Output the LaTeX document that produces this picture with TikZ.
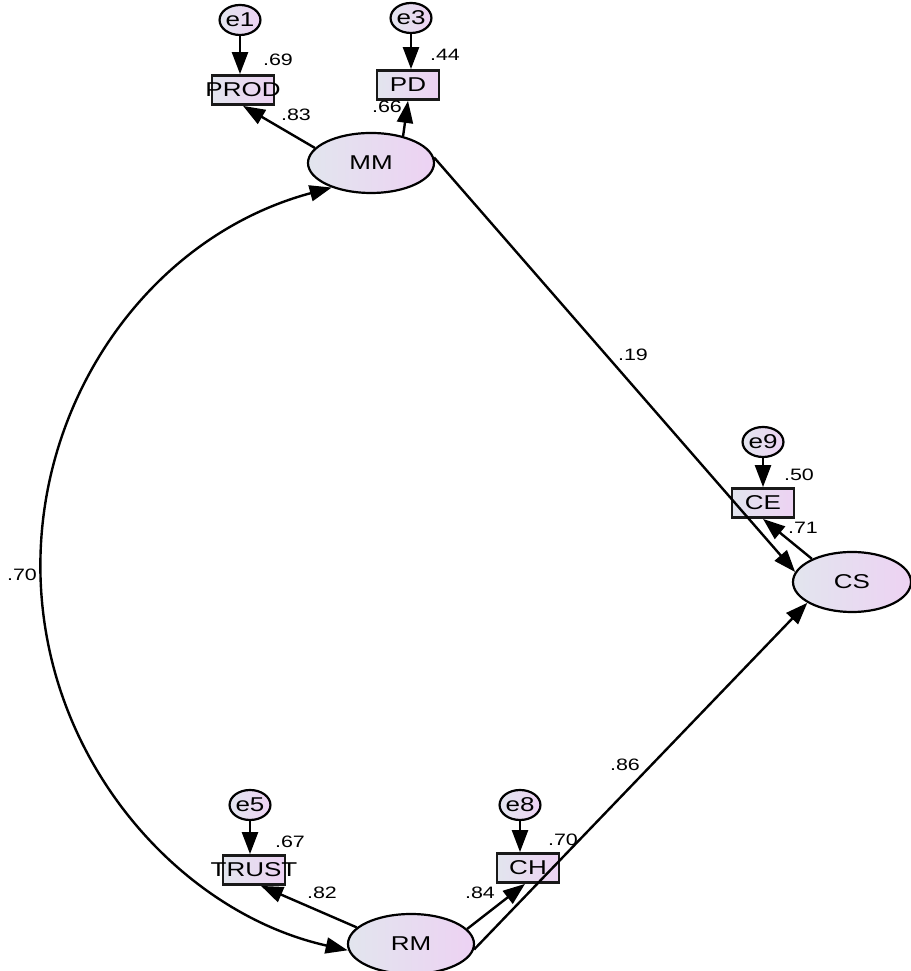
\documentclass[tikz,border=0pt]{standalone}
\usepackage{fontspec}
\setmainfont{Liberation Sans}
\usetikzlibrary{arrows.meta,shapes.geometric}
\definecolor{lcol}{RGB}{226,229,238}
\definecolor{rcol}{RGB}{237,210,243}
\newcommand{\sx}[1]{\scalebox{1.3}[1]{#1}}
\begin{document}
\begin{tikzpicture}[x=1pt,y=1pt,
 lat/.style={ellipse, draw=black, line width=2.2pt, left color=lcol, right color=rcol, minimum width=126pt, minimum height=60pt, inner sep=0pt, font=\fontsize{20}{20}\selectfont},
 err/.style={ellipse, draw=black, line width=2.2pt, left color=lcol, right color=rcol, minimum width=38pt, minimum height=30pt, inner sep=0pt, font=\fontsize{20}{20}\selectfont},
 obs/.style={rectangle, draw=black!90, line width=2.8pt, left color=lcol, right color=rcol, minimum width=62pt, minimum height=29pt, inner sep=0pt, font=\fontsize{20}{20}\selectfont},
 num/.style={inner sep=0pt, font=\fontsize{16.5}{16.5}\selectfont},
 arr/.style={line width=2.4pt, -{Triangle[length=22pt,width=16pt]}},
 dbl/.style={line width=2.4pt, {Triangle[length=22pt,width=16pt]}-{Triangle[length=22pt,width=16pt]}}
]
\useasboundingbox (0,0) rectangle (910,971);
% nodes
\node[err] (e1) at (240,951) {\sx{e1}};
\node[obs] (PROD) at (243,881) {\makebox[0pt]{\sx{PROD}}};
\node[err] (e3) at (411,953) {\sx{e3}};
\node[obs] (PD) at (408,886) {\makebox[0pt]{\sx{PD}}};
\node[lat] (MM) at (371,808) {\sx{MM}};
\node[err] (e9) at (763,529) {\sx{e9}};
\node[obs] (CE) at (763,468) {\makebox[0pt]{\sx{CE}}};
\node[lat, minimum width=118pt] (CS) at (852,389) {\sx{CS}};
\node[err] (e5) at (250,166) {\sx{e5}};
\node[obs] (TRUST) at (254,101) {\makebox[0pt]{\sx{TRUST}}};
\node[err] (e8) at (520,166) {\sx{e8}};
\node[obs] (CH) at (528,103) {\makebox[0pt]{\sx{CH}}};
\node[lat] (RM) at (411,27) {\sx{RM}};
% connectors
\draw[arr] (e1.south) -- (e1.south |- PROD.north);
\draw[arr] (e3.south) -- (e3.south |- PD.north);
\draw[arr] (e9.south) -- (e9.south |- CE.north);
\draw[arr] (e5.south) -- (e5.south |- TRUST.north);
\draw[arr] (e8.south) -- (e8.south |- CH.north);
\draw[arr] (MM.165) -- (PROD.south);
\draw[arr] (MM.40) -- (PD.south);
\draw[arr] (MM.5) -- (CS.170);
\draw[arr] (CS.150) -- (CE.south);
\draw[arr] (RM.163) -- ([xshift=7pt]TRUST.south);
\draw[arr] (RM.15) -- ([xshift=-3pt]CH.south);
\draw[arr] (RM.-5) -- (CS.205);
\draw[dbl] (MM.212) arc[start angle=105, end angle=257.4, radius=392.8];
% labels
\node[num] (l69) at (278,911) {\sx{.69}};
\node[num] (l44) at (445,916) {\sx{.44}};
\node[num] (l83) at (296,856) {\sx{.83}};
\node[num] (l66) at (387,864) {\sx{.66}};
\node[num] (l19) at (633,616) {\sx{.19}};
\node[num] (l50) at (799,496) {\sx{.50}};
\node[num] (l71) at (803,443) {\sx{.71}};
\node[num] (l86) at (625,206) {\sx{.86}};
\node[num] (l67) at (290,129) {\sx{.67}};
\node[num] (l82) at (322,78) {\sx{.82}};
\node[num] (l70b) at (563,131) {\sx{.70}};
\node[num] (l84) at (480,78) {\sx{.84}};
\node[num] (l70a) at (22,396) {\sx{.70}};
\end{tikzpicture}
\end{document}
